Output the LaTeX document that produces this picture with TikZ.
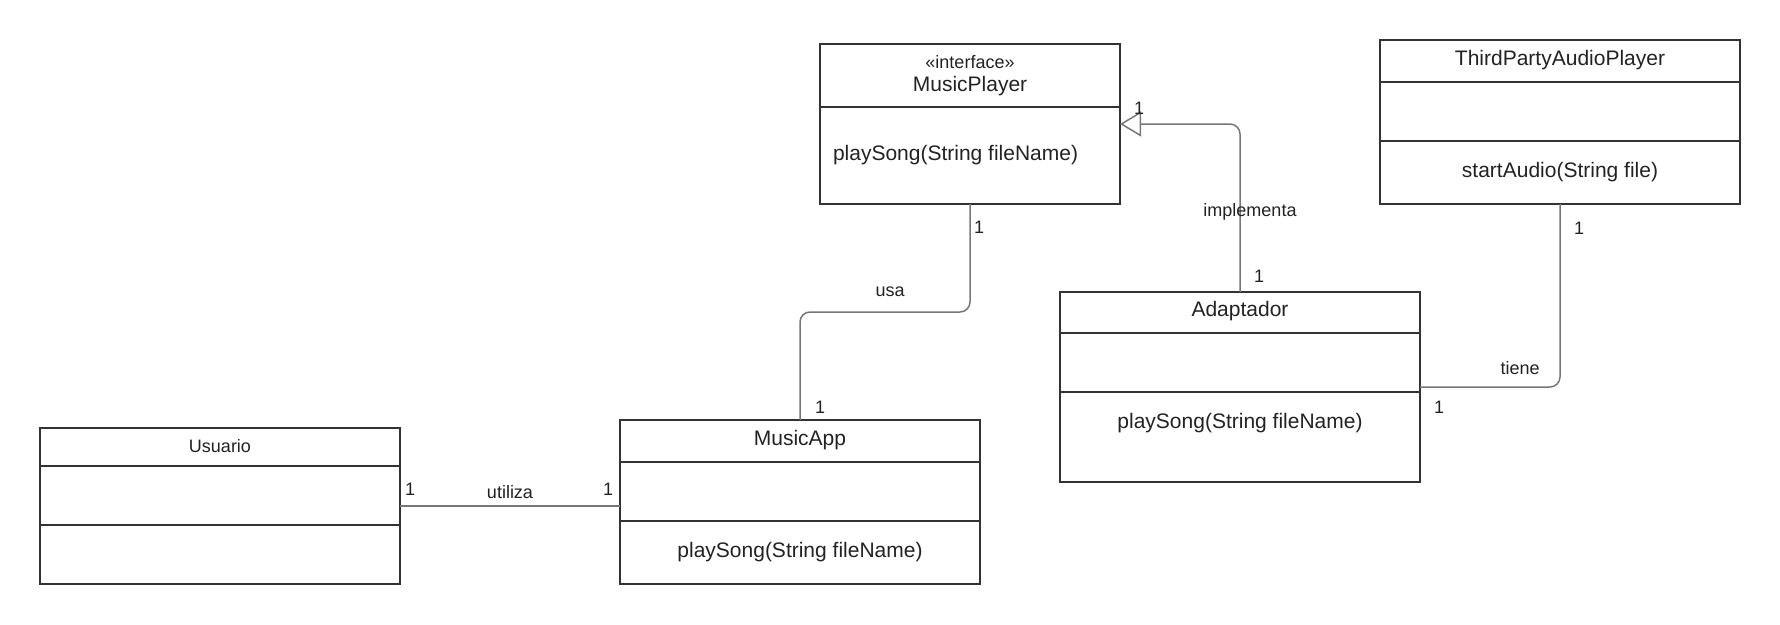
\documentclass[tikz,border=0pt]{standalone}
\usepackage{fontspec}
\setmainfont{Liberation Sans}
\usetikzlibrary{arrows.meta}

\definecolor{custcol_33_33_33}{RGB}{51, 51, 51}
\definecolor{custcol_77_77_77}{RGB}{119, 119, 119}
\definecolor{custcol_22_22_22}{RGB}{34, 34, 34}

\tikzset{
  classbox/.style={draw=custcol_33_33_33, line width=2.0pt, inner sep=0, outer sep=0, rectangle},
  classsep/.style={draw=custcol_33_33_33, line width=2.0pt, line cap=rect},
  assoc/.style={draw=custcol_77_77_77, line width=1.5pt, rounded corners=10pt},
  bigtext/.style={inner sep=0, outer sep=0, custcol_22_22_22, font=\fontsize{21pt}{21pt}\selectfont},
  smalltext/.style={inner sep=0, outer sep=0, custcol_22_22_22, font=\fontsize{18pt}{18pt}\selectfont},
}

\begin{document}
\begin{tikzpicture}[x=1pt,y=-1pt]
\useasboundingbox (0,0) rectangle (1780,624);
% class boxes
\node[classbox, minimum width=300pt, minimum height=160pt] (musicplayer) at (970.0,124.0) {};
\node[classbox, minimum width=360pt, minimum height=164pt] (thirdparty) at (1560.0,122.0) {};
\node[classbox, minimum width=360pt, minimum height=190pt] (adaptador) at (1240.0,387.0) {};
\node[classbox, minimum width=360pt, minimum height=156pt] (usuario) at (220.0,506.0) {};
\node[classbox, minimum width=360pt, minimum height=164pt] (musicapp) at (800.0,502.0) {};
% compartments
\draw [classsep] ([yshift=-63pt]musicplayer.north west) -- ([yshift=-63pt]musicplayer.north east);
\draw [classsep] ([yshift=-42pt]thirdparty.north west) -- ([yshift=-42pt]thirdparty.north east);
\draw [classsep] ([yshift=-101pt]thirdparty.north west) -- ([yshift=-101pt]thirdparty.north east);
\draw [classsep] ([yshift=-41pt]adaptador.north west) -- ([yshift=-41pt]adaptador.north east);
\draw [classsep] ([yshift=-100pt]adaptador.north west) -- ([yshift=-100pt]adaptador.north east);
\draw [classsep] ([yshift=-38pt]usuario.north west) -- ([yshift=-38pt]usuario.north east);
\draw [classsep] ([yshift=-97pt]usuario.north west) -- ([yshift=-97pt]usuario.north east);
\draw [classsep] ([yshift=-42pt]musicapp.north west) -- ([yshift=-42pt]musicapp.north east);
\draw [classsep] ([yshift=-101pt]musicapp.north west) -- ([yshift=-101pt]musicapp.north east);
% class texts
\node[smalltext] (mpstereo) at (970.0,62.0) {«interface»};
\node[bigtext] (mpname) at (970.0,86.0) {MusicPlayer};
\node[bigtext, anchor=west] (mpop) at (833.0,155.0) {playSong(String fileName)};
\node[bigtext] (tpname) at (1560.0,60.0) {ThirdPartyAudioPlayer};
\node[bigtext] (tpop) at (1560.0,172.0) {startAudio(String file)};
\node[bigtext] (adname) at (1240.0,311.0) {Adaptador};
\node[bigtext] (adop) at (1240.0,423.0) {playSong(String fileName)};
\node[smalltext] (usname) at (220.0,446.0) {Usuario};
\node[bigtext] (maname) at (800.0,440.0) {MusicApp};
\node[bigtext] (maop) at (800.0,552.0) {playSong(String fileName)};
% connectors
\coordinate (usabend) at (0,312);
\draw [assoc] (musicapp.north) -- (musicapp.north |- usabend) -| (musicplayer.south);
\draw [assoc] (usuario.east) -- (musicapp.west |- usuario.east);
\draw [assoc] (thirdparty.south) |- (adaptador.east);
\draw [assoc, -{Triangle[open, length=21pt, width=25pt, fill=white]}] (adaptador.north) |- (musicplayer.east);
% connector labels
\node[smalltext] (usalbl) at (890.0,292.0) {usa};
\node[smalltext] (usaone) at (979.0,227.0) {1};
\node[smalltext] (usatwo) at (820.0,407.0) {1};
\node[smalltext] (utilbl) at (510.0,492.0) {utiliza};
\node[smalltext] (utione) at (410.0,489.0) {1};
\node[smalltext] (utitwo) at (608.0,489.0) {1};
\node[smalltext] (implbl) at (1250.0,212.0) {implementa};
\node[smalltext] (impone) at (1259.0,276.0) {1};
\node[smalltext] (imptwo) at (1139.0,108.0) {1};
\node[smalltext] (tielbl) at (1520.0,368.0) {tiene};
\node[smalltext] (tieone) at (1579.0,228.0) {1};
\node[smalltext] (tietwo) at (1439.0,407.0) {1};
\end{tikzpicture}
\end{document}
